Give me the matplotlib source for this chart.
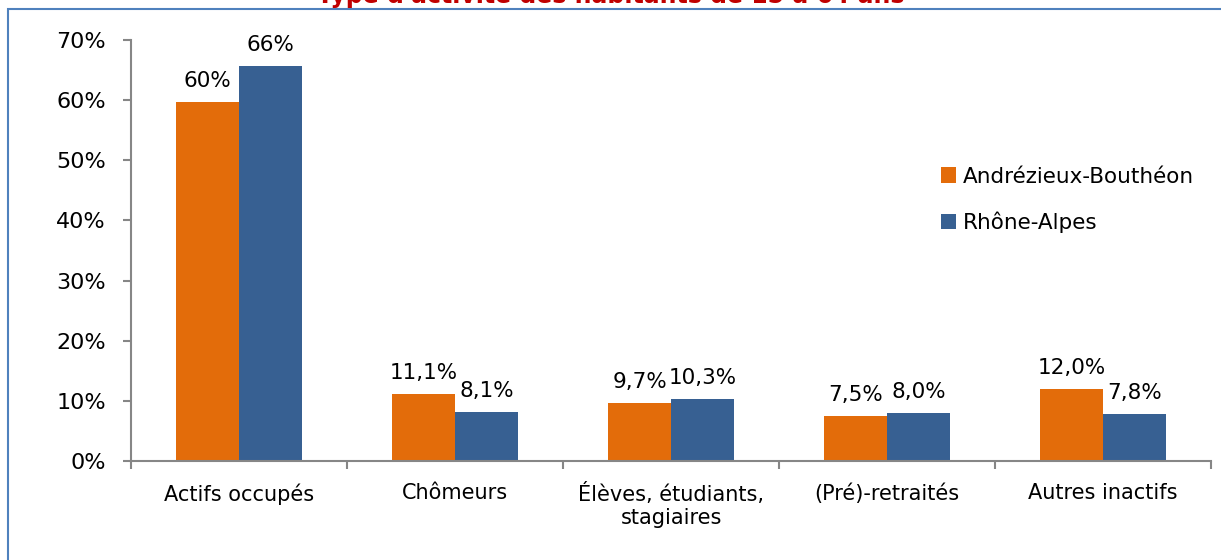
import numpy as np
import matplotlib.pyplot as plt
from matplotlib.patches import Rectangle

categories = ["Actifs occupés", "Chômeurs", "Élèves, étudiants,\nstagiaires",
              "(Pré)-retraités", "Autres inactifs"]
andrezieux = [59.7, 11.1, 9.7, 7.5, 12.0]
rhone_alpes = [65.7, 8.1, 10.3, 8.0, 7.8]
lab_andrezieux = ["60%", "11,1%", "9,7%", "7,5%", "12,0%"]
lab_rhone = ["66%", "8,1%", "10,3%", "8,0%", "7,8%"]
yticks = [0, 10, 20, 30, 40, 50, 60, 70]

orange = "#E36C0A"
blue = "#376092"
gray = "#868686"

fig = plt.figure(figsize=(12.21, 5.6), dpi=100)
# cadre bleu autour du graphique
fig.patches.append(Rectangle((8 / 1221, -0.1), 1.2, 1 - 9 / 560 + 0.1,
                             transform=fig.transFigure, fill=False,
                             edgecolor="#4F81BD", lw=1.5))
fig.text(0.5, 1.008, "Type d'activité des habitants de 15 à 64 ans",
         ha="center", va="center", color="#C00000", fontsize=17, weight="bold")

ax = fig.add_axes([131 / 1221, 1 - 461 / 560, 1080 / 1221, 421 / 560])
x = np.arange(len(categories))
w = 0.29
b1 = ax.bar(x - w / 2, andrezieux, w, color=orange, label="Andrézieux-Bouthéon")
b2 = ax.bar(x + w / 2, rhone_alpes, w, color=blue, label="Rhône-Alpes")
for bars, labs in ((b1, lab_andrezieux), (b2, lab_rhone)):
    for b, t in zip(bars, labs):
        ax.annotate(t, (b.get_x() + b.get_width() / 2, b.get_height()),
                    xytext=(0, 8), textcoords="offset points",
                    ha="center", va="bottom", fontsize=15.5)

ax.set_xlim(-0.5, len(categories) - 0.5)
ax.set_ylim(0, 70)
ax.set_yticks(yticks)
ax.set_yticklabels([f"{v}%" for v in yticks], fontsize=16)
ax.set_xticks(x)
ax.set_xticklabels(categories, fontsize=15)
ax.tick_params(axis="x", length=0, pad=16)
ax.set_xticks(np.arange(-0.5, len(categories)), minor=True)
ax.tick_params(axis="x", which="minor", length=6, color=gray, width=1.5)
ax.tick_params(axis="y", length=6, color=gray, width=1.5, pad=12)
for s in ["top", "right"]:
    ax.spines[s].set_visible(False)
for s in ["left", "bottom"]:
    ax.spines[s].set_color(gray)
    ax.spines[s].set_linewidth(1.5)

ax.legend(loc="upper left", bbox_to_anchor=(0.74, 0.725), frameon=False,
          fontsize=15.5, handlelength=0.7, handleheight=0.7, handletextpad=0.3,
          labelspacing=1.15, borderpad=0)

fig.savefig("out.png", dpi=100)
